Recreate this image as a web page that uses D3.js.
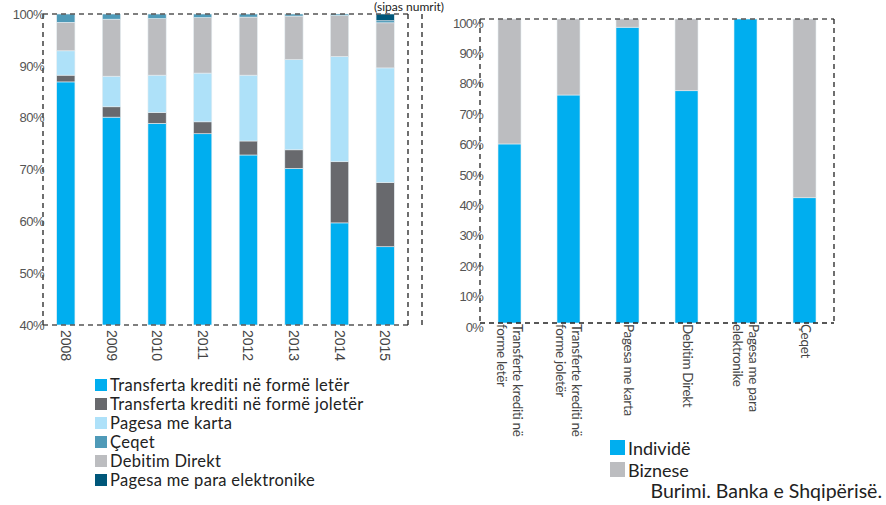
<!DOCTYPE html>
<html><head><meta charset="utf-8">
<script src="https://cdn.jsdelivr.net/npm/d3@7"></script>
<style>
body{margin:0;background:#fff;}
svg{display:block;font-family:Lato,"Open Sans",sans-serif;}
</style></head>
<body><svg id="c" width="886" height="505"></svg>
<script>
// ---- data: left chart (share by instrument, %) ----
const years = ["2008","2009","2010","2011","2012","2013","2014","2015"];
const seriesNames = ["Transferta krediti në formë letër","Transferta krediti në formë joletër","Pagesa me karta","Çeqet","Debitim Direkt","Pagesa me para elektronike"];
const trLeter   = [86.9, 80.1, 78.9, 76.9, 72.8, 70.2, 59.7, 55.1];
const trJoleter = [ 1.3,  2.0,  2.1,  2.3,  2.7,  3.6, 11.8, 12.4];
const karta     = [ 4.7,  5.9,  7.2,  9.4, 12.7, 17.4, 20.3, 22.1];
const debitim   = [ 5.5, 11.0, 10.9, 10.7, 11.2,  8.4,  7.9,  8.7];
const ceqet     = [ 1.6,  1.0,  0.9,  0.7,  0.6,  0.4,  0.3,  0.4];
const elektron  = [ 0.0,  0.0,  0.0,  0.0,  0.0,  0.0,  0.0,  1.3];
const leftTicks = [40,50,60,70,80,90,100];

// ---- data: right chart (individuals vs business, %) ----
const instruments = [["Transferte krediti në","forme letër"],["Transferte krediti në","forme joletër"],["Pagesa me karta"],["Debitim Direkt"],["Pagesa me para","elektronike"],["Çeqet"]];
const individe = [58.9, 75.0, 97.3, 76.4, 100.0, 41.2];
const biznese  = [41.1, 25.0,  2.7, 23.6,   0.0, 58.8];
const rightTicks = [0,10,20,30,40,50,60,70,80,90,100];

const svg = d3.select("#c");
const dash = "5,4", frameCol = "#555";

// ================= LEFT CHART =================
const L = {x0:43, x1:408, y0:14, y1:325};
const xL = d3.scaleBand().domain(years).range([L.x0, L.x1]).paddingInner(0.6).paddingOuter(0.3);
const yL = d3.scaleLinear().domain([40,100]).range([L.y1, L.y0]);

const keysL = ["trLeter","trJoleter","karta","debitim","ceqet","elektron"];
const colL = {trLeter:"#00AEEF",trJoleter:"#68696D",karta:"#AEE1F9",ceqet:"#4F9AB8",debitim:"#BCBDC0",elektron:"#00577A"};
const srcL = {trLeter, trJoleter, karta, debitim, ceqet, elektron};
const rowsL = years.map((y,i)=>{const o={year:y}; keysL.forEach(k=>o[k]=srcL[k][i]); return o;});
const stackL = d3.stack().keys(keysL)(rowsL);

const gL = svg.append("g");
stackL.forEach(layer=>{
  gL.selectAll(null).data(layer).enter().append("rect")
    .attr("x", d=>xL(d.data.year))
    .attr("width", xL.bandwidth())
    .attr("y", d=>yL(Math.min(100,d[1])))
    .attr("height", d=>Math.max(0, yL(Math.max(40,d[0])) - yL(Math.min(100,d[1]))))
    .attr("fill", colL[layer.key])
    .attr("stroke", d=> (d[1]-d[0])>0 ? "#e6eef2" : "none")
    .attr("stroke-width", 0.6);
});

// frame
const fL = svg.append("g").attr("fill","none").attr("stroke",frameCol).attr("stroke-width",1.3).attr("stroke-dasharray",dash);
fL.append("line").attr("x1",L.x0).attr("x2",L.x1).attr("y1",L.y0).attr("y2",L.y0);
fL.append("line").attr("x1",L.x0).attr("x2",L.x1).attr("y1",L.y1).attr("y2",L.y1);
fL.append("line").attr("x1",L.x0).attr("x2",L.x0).attr("y1",L.y0).attr("y2",L.y1).attr("stroke","#222");
fL.append("line").attr("x1",L.x1).attr("x2",L.x1).attr("y1",L.y0).attr("y2",L.y1).attr("stroke","#222");
fL.append("line").attr("x1",422).attr("x2",422).attr("y1",L.y0).attr("y2",L.y1).attr("stroke","#222");

// y axis labels
const axL = d3.axisLeft(yL).tickValues(leftTicks).tickFormat(d=>d+"%").tickSize(0).tickPadding(0);
const gAxL = svg.append("g").attr("transform",`translate(${L.x0},0)`).call(axL);
gAxL.select(".domain").remove();
gAxL.selectAll("text").attr("font-size",13).attr("fill","#555").attr("letter-spacing","-0.5").attr("dx",1);

// x labels
const axLx = d3.axisBottom(xL).tickSize(0).tickPadding(0);
const gAxLx = svg.append("g").attr("transform",`translate(0,${L.y1})`).call(axLx);
gAxLx.select(".domain").remove();
gAxLx.selectAll("text")
  .attr("font-size",14).attr("fill","#444")
  .attr("transform","translate(0,5) rotate(90)")
  .attr("text-anchor","start").attr("dy","0.35em").attr("y",0).attr("x",0);

// legend left
const legL = svg.append("g").attr("transform","translate(95,379)");
const legKeys = ["trLeter","trJoleter","karta","ceqet","debitim","elektron"];
legKeys.forEach((k,i)=>{
  const g = legL.append("g").attr("transform",`translate(0,${i*19})`);
  g.append("rect").attr("width",12).attr("height",12).attr("fill",colL[k]);
  g.append("text").attr("x",15).attr("y",6).attr("dy","0.36em").attr("font-size",16.5)
   .attr("fill","#222").attr("letter-spacing","0.3").text(seriesNames[i]);
});

// ================= RIGHT CHART =================
const R = {x0:480, x1:834, y0:19, y1:323};
const xR = d3.scaleBand().domain(d3.range(instruments.length)).range([R.x0, R.x1]).paddingInner(0.61).paddingOuter(0.305);
const yR = d3.scaleLinear().domain([0,100]).range([R.y1, R.y0]);
const rowsR = instruments.map((n,i)=>({i, ind:individe[i], biz:biznese[i]}));
const stackR = d3.stack().keys(["ind","biz"])(rowsR);
const colR = {ind:"#00AEEF", biz:"#BCBDC0"};
const gR = svg.append("g");
stackR.forEach(layer=>{
  gR.selectAll(null).data(layer).enter().append("rect")
    .attr("x", d=>xR(d.data.i))
    .attr("width", xR.bandwidth())
    .attr("y", d=>yR(d[1]))
    .attr("height", d=>yR(d[0])-yR(d[1]))
    .attr("fill", colR[layer.key])
    .attr("stroke", d=>(d[1]-d[0])>0 ? "#e6eef2":"none").attr("stroke-width",0.6);
});

const fR = svg.append("g").attr("fill","none").attr("stroke",frameCol).attr("stroke-width",1.3).attr("stroke-dasharray",dash);
fR.append("line").attr("x1",R.x0).attr("x2",R.x1).attr("y1",R.y0).attr("y2",R.y0);
fR.append("line").attr("x1",R.x0).attr("x2",R.x1).attr("y1",R.y1).attr("y2",R.y1).attr("stroke","#222");
fR.append("line").attr("x1",R.x0).attr("x2",R.x0).attr("y1",R.y0).attr("y2",R.y1).attr("stroke","#222");
fR.append("line").attr("x1",R.x1).attr("x2",R.x1).attr("y1",R.y0).attr("y2",R.y1).attr("stroke","#222");

const axR = d3.axisLeft(yR).tickValues(rightTicks).tickFormat(d=>d+"%").tickSize(0).tickPadding(0);
const gAxR = svg.append("g").attr("transform",`translate(${R.x0+3},4)`).call(axR);
gAxR.select(".domain").remove();
gAxR.selectAll("text").attr("font-size",13).attr("fill","#555").attr("letter-spacing","-0.8");

// right x labels (multi-line, rotated)
const lab = svg.append("g");
instruments.forEach((lines,i)=>{
  const cx = xR(i) + xR.bandwidth()/2;
  const n = lines.length;
  const t = lab.append("text")
    .attr("transform",`translate(${cx},${R.y1+1}) rotate(90)`)
    .attr("font-size",13.5).attr("fill","#444").attr("letter-spacing","-0.3");
  lines.forEach((ln,j)=>{
    t.append("tspan").attr("x",0).attr("y", (j-(n-1)/2)*16.5 - (n>1?0:1)).attr("dy","0.35em").text(ln);
  });
});

// right legend
const legR = svg.append("g").attr("transform","translate(610,440)");
[["Individë","#00AEEF"],["Biznese","#BCBDC0"]].forEach((d,i)=>{
  const g = legR.append("g").attr("transform",`translate(0,${i*22})`);
  g.append("rect").attr("width",15).attr("height",15).attr("fill",d[1]);
  g.append("text").attr("x",18).attr("y",8).attr("dy","0.38em").attr("font-size",18).attr("fill","#222").text(d[0]);
});

svg.append("text").attr("x",882).attr("y",498).attr("text-anchor","end")
  .attr("font-size",19.5).attr("fill","#222").text("Burimi. Banka e Shqipërisë.");

// title fragment at top (kept visible, small)
svg.append("text").attr("x",374).attr("y",11).attr("font-size",12).attr("fill","#222").text("(sipas numrit)");
</script></body></html>
